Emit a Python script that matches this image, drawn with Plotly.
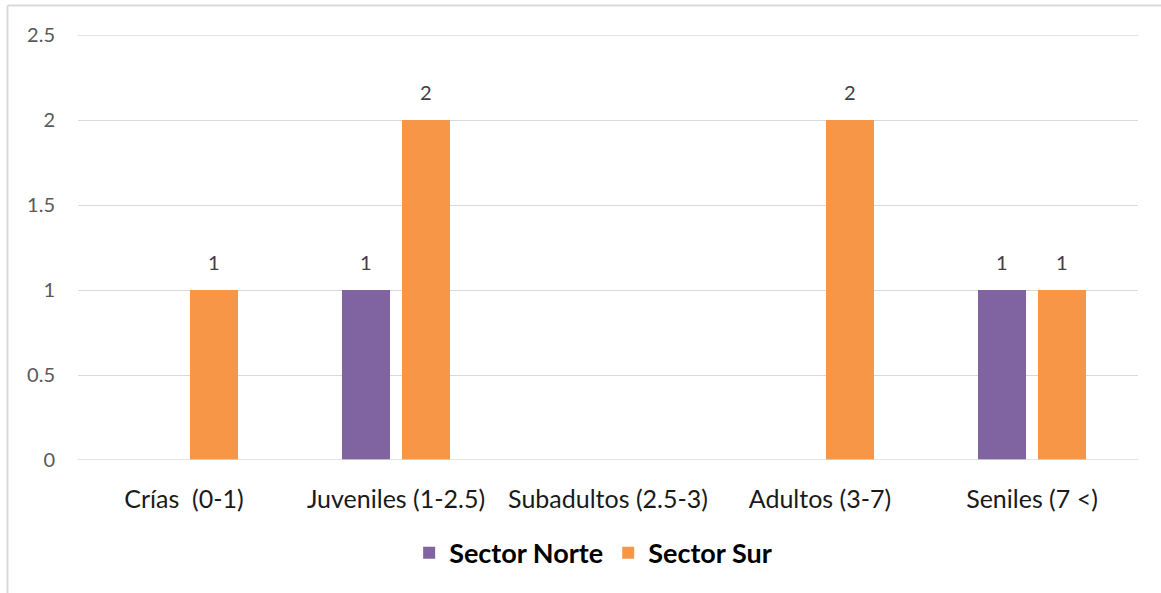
import plotly.graph_objects as go

categories = ["Crías  (0-1)", "Juveniles (1-2.5)", "Subadultos (2.5-3)", "Adultos (3-7)", "Seniles (7 <)"]
norte = [0, 1, 0, 0, 1]
sur = [1, 2, 0, 2, 1]
y_ticks = [0, 0.5, 1, 1.5, 2, 2.5]
y_ticktext = ["0", "0.5", "1", "1.5", "2", "2.5"]

NORTE_COLOR = "#8064A2"
SUR_COLOR = "#F79646"
GRID = "#D9D9D9"

fig = go.Figure()
fig.add_trace(go.Bar(name="Sector Norte", x=categories, y=norte,
                     marker=dict(color=NORTE_COLOR, line=dict(width=0))))
fig.add_trace(go.Bar(name="Sector Sur", x=categories, y=sur,
                     marker=dict(color=SUR_COLOR, line=dict(width=0))))

# data labels (only non-zero values), placed above each bar of the group
annotations = []
for vals, shift in ((norte, -30), (sur, 30)):
    for cat, v in zip(categories, vals):
        if v:
            annotations.append(dict(x=cat, y=v, xref="x", yref="y", text=str(v),
                                    showarrow=False, xshift=shift, yanchor="bottom", yshift=14,
                                    font=dict(size=20, color="#404040")))

PW, PH = 1060, 425
shapes = [
    # chart-area border: only top and left edges are visible in the frame
    dict(type="line", xref="paper", yref="paper",
         x0=(7.5 - 78) / PW, x1=(1175 - 78) / PW, y0=(460 - 5.5) / PH, y1=(460 - 5.5) / PH,
         line=dict(color=GRID, width=2)),
    dict(type="line", xref="paper", yref="paper",
         x0=(7.5 - 78) / PW, x1=(7.5 - 78) / PW, y0=(460 - 5.5) / PH, y1=(460 - 610) / PH,
         line=dict(color=GRID, width=2)),
]
for yv in (y_ticks[0], y_ticks[-1]):
    shapes.append(dict(type="line", xref="paper", yref="y", x0=0, x1=1, y0=yv, y1=yv,
                       line=dict(color=GRID, width=1.3), layer="above" if yv == 0 else "below"))

fig.update_layout(
    width=1161, height=593,
    margin=dict(l=78, r=23, t=35, b=133),
    paper_bgcolor="white", plot_bgcolor="white",
    font=dict(family="Lato, Open Sans, sans-serif", size=20, color="#595959"),
    barmode="group", bargap=0.434, bargroupgap=0.2,
    showlegend=True,
    legend=dict(orientation="h", x=0.486, xanchor="center", y=-0.219, yanchor="middle",
                font=dict(size=27, color="#000000", family="Lato, sans-serif", weight="bold"),
                traceorder="normal"),
    xaxis=dict(showgrid=False, showline=False, ticks="", ticklabelstandoff=22,
               tickfont=dict(color="#1a1a1a", size=25)),
    yaxis=dict(range=[0, 2.5], tickvals=y_ticks, ticktext=y_ticktext,
               showgrid=True, gridcolor=GRID, gridwidth=1.3, zeroline=False,
               showline=False, ticks="", ticklabelstandoff=22,
               tickfont=dict(color="#595959", size=20)),
    annotations=annotations,
    shapes=shapes,
)

fig.write_html("out.html", config={"displayModeBar": False},
               post_script="document.body.style.margin='0';")
